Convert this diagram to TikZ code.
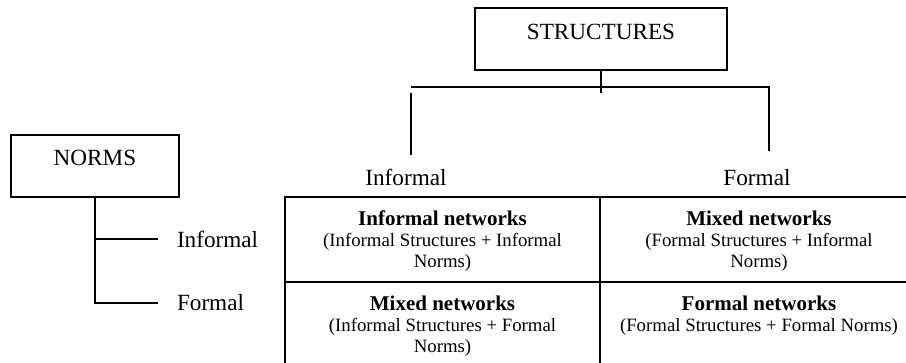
\documentclass[tikz,border=0pt]{standalone}
\usepackage{fontspec}
\setmainfont{Liberation Serif}

\tikzset{
  titlebox/.style={draw, line width=1pt, inner sep=0pt, text height=15.5pt, text depth=15.5pt, anchor=base, font=\fontsize{11.6}{13}\selectfont},
  axislabel/.style={anchor=base, inner sep=0pt, font=\fontsize{11.6}{13}\selectfont},
  cell/.style={anchor=base, inner sep=0pt, align=center, font=\fontsize{9.4}{10.5}\selectfont},
}
\newcommand{\cellhead}[1]{{\fontsize{10.5}{10.5}\selectfont\bfseries #1}}

\begin{document}
\begin{tikzpicture}[x=0.5pt, y=-0.5pt, line width=1pt]
\useasboundingbox (0,0) rectangle (906,363);
\clip (0,0) rectangle (906,363);
% caixes de capcalera
\node[titlebox, minimum width=84pt] (norms) at (95,166) {NORMS};
\node[titlebox, minimum width=126pt] (struct) at (601,39.5) {STRUCTURES};
% branques de NORMS
\coordinate (nInf) at (158,239);
\coordinate (nFor) at (158,303);
\draw (norms.south) |- (nFor);
\draw (norms.south |- nInf) -- (nInf);
\node[axislabel, anchor=base west] (rowInf) at (176,248) {Informal};
\node[axislabel, anchor=base west] (rowFor) at (176,311) {Formal};
% branques de STRUCTURES
\coordinate (sJoin) at (601,93);
\coordinate (sLeft) at (411,87);
\coordinate (sRight) at (769,87);
\coordinate (sLtop) at (411,93);
\coordinate (sLend) at (411,155);
\coordinate (sRend) at (769,151);
\draw (struct.south) -- (sJoin);
\draw (sLeft) -- (sRight) -- (sRend);
\draw (sLtop) -- (sLend);
\node[axislabel] (colInf) at (406,186) {Informal};
\node[axislabel] (colFor) at (757,186) {Formal};
% taula (base = darrera linia de cada cel.la)
\draw (285,370) -- (285,197) -- (918,197) -- (918,370);
\draw (285,282) -- (918,282);
\draw (600,197) -- (600,370);
\node[cell] (cellII) at (442.5,268) {\cellhead{Informal networks}\\(Informal Structures + Informal\\Norms)};
\node[cell] (cellFI) at (759,268) {\cellhead{Mixed networks}\\(Formal Structures + Informal\\Norms)};
\node[cell] (cellIF) at (442.5,353) {\cellhead{Mixed networks}\\(Informal Structures + Formal\\Norms)};
\node[cell] (cellFF) at (759,332) {\cellhead{Formal networks}\\(Formal Structures + Formal Norms)};
\end{tikzpicture}
\end{document}
